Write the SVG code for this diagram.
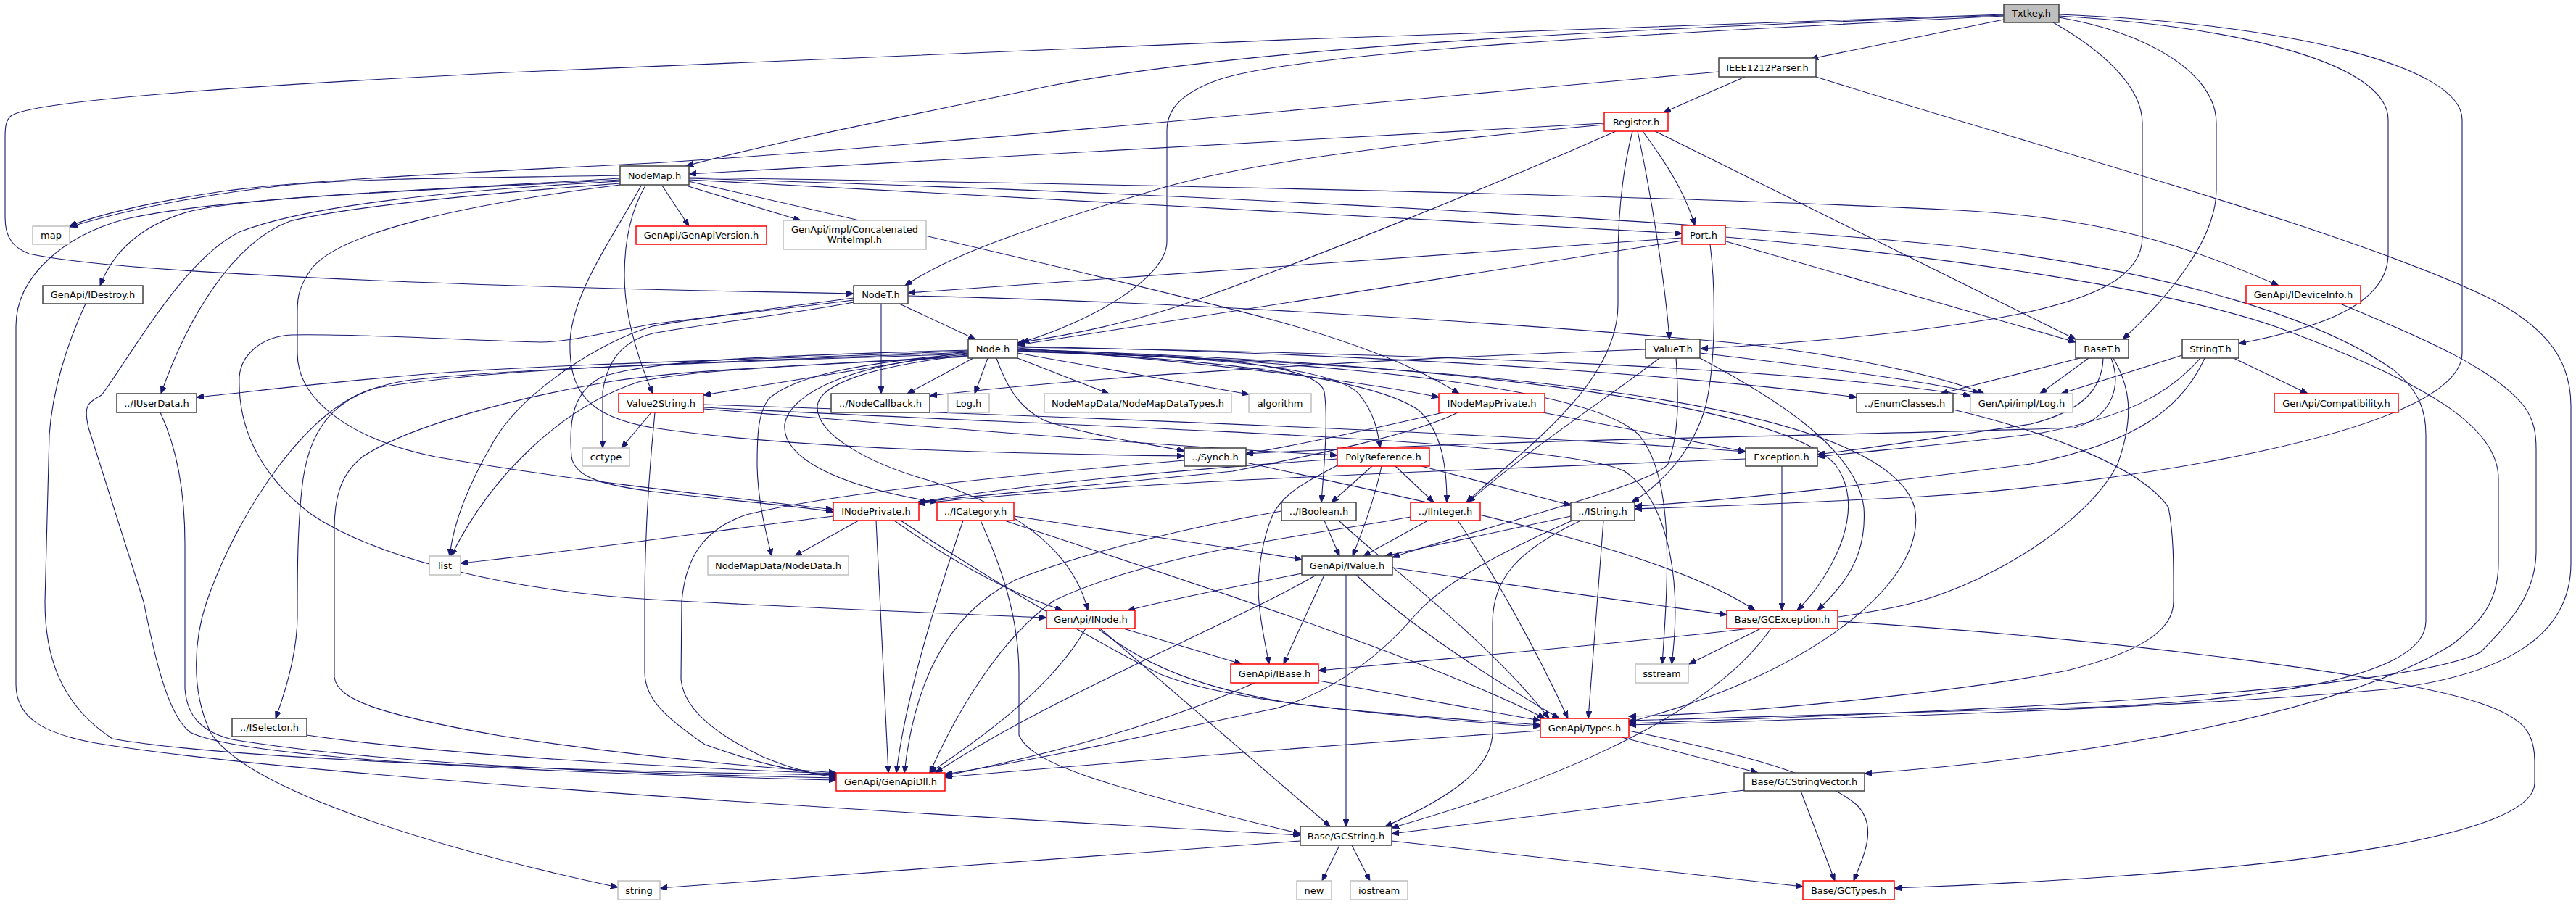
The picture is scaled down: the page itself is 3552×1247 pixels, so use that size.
<svg xmlns="http://www.w3.org/2000/svg" width="3552" height="1247" viewBox="0 0 3552 1247">
<defs>
<style>
.n rect{fill:#fff;stroke:#404040;stroke-width:1.5}
.n.r rect{stroke:#ff0000}
.n.g rect{stroke:#bfbfbf}
.n.root rect{fill:#bfbfbf}
.n text{font-family:"DejaVu Sans","Liberation Sans",sans-serif;font-size:13px;text-anchor:middle;fill:#000}
#edges path{fill:none;stroke:#191970;stroke-width:1.1;marker-end:url(#a)}
</style>
<marker id="a" markerWidth="11" markerHeight="8" refX="10" refY="4" orient="auto" markerUnits="userSpaceOnUse"><path d="M0,0 L10,4 L0,8 z" fill="#191970" stroke="#191970" stroke-width="1"/></marker>
</defs>
<rect width="3552" height="1247" fill="#fff"/>
<g id="edges">
<path d="M2763,20 C2200,38 1200,75 700,100 C300,120 40,140 15,160 C8,166 7,175 7,190 L7,300 C7,330 20,342 40,350 C150,375 600,395 1177,405"/>
<path d="M2763,21 C2300,38 1750,60 1450,118 C1250,160 1050,200 946,229"/>
<path d="M2763,22 C2300,45 1800,70 1680,110 C1630,128 1609,150 1609,180 L1609,333 C1609,385 1500,445 1409,472"/>
<path d="M2763,27 L2497,81"/>
<path d="M2831,31 C2900,70 2954,120 2954,170 L2954,327 C2954,385 2880,412 2790,432 C2640,462 2450,475 2345,481"/>
<path d="M2839,24 C2960,45 3056,100 3056,170 L3056,262 C3056,330 2990,410 2927,468"/>
<path d="M2839,22 C3100,38 3293,90 3293,165 L3293,350 C3293,420 3200,452 3087,474"/>
<path d="M2839,20 C3150,32 3395,90 3395,165 L3395,487 C3395,600 2900,670 2650,685 C2500,693 2350,699 2254,702"/>
<path d="M2406,106 L2294,155"/>
<path d="M2370,99 C1900,140 1300,200 900,225 C600,240 400,250 300,265 C200,280 130,298 96,312"/>
<path d="M2504,106 C2800,200 3250,320 3440,415 C3515,455 3545,500 3545,560 L3545,777 C3545,880 3450,930 3300,950 C3000,978 2500,992 2246,1000"/>
<path d="M2212,170 L950,240"/>
<path d="M2212,172 C1900,200 1700,230 1600,260 C1450,305 1320,345 1248,394"/>
<path d="M2228,181 C2050,260 1800,360 1660,410 C1580,440 1490,460 1403,473"/>
<path d="M2265,181 C2290,215 2322,260 2337,311"/>
<path d="M2258,181 C2275,260 2295,380 2302,468"/>
<path d="M2251,181 C2236,240 2231,300 2231,360 L2231,420 C2231,530 2100,620 2022,693"/>
<path d="M2282,181 L2862,468"/>
<path d="M2320,328 L1252,404"/>
<path d="M2320,332 L1403,476"/>
<path d="M2358,337 C2366,400 2366,500 2352,560 C2335,620 2295,665 2250,693"/>
<path d="M2380,333 L2862,472"/>
<path d="M2380,327 C2700,355 3000,400 3150,455 C3350,530 3445,590 3445,660 L3445,777 C3445,830 3420,860 3380,890 C3200,1000 2800,1050 2571,1067"/>
<path d="M855,242 C700,245 500,245 400,255 C280,268 170,290 97,313"/>
<path d="M855,246 C600,262 350,270 260,292 C190,312 155,350 138,394"/>
<path d="M855,248 C600,262 300,272 170,303 C90,325 22,380 22,450 L22,944 C22,990 60,1012 132,1025 C400,1070 1200,1120 1793,1152"/>
<path d="M855,250 C600,264 420,285 330,320 C250,360 175,500 140,545 C120,556 115,560 122,590 L198,830 C212,900 230,985 262,1010 C320,1040 600,1062 1153,1076"/>
<path d="M855,253 C600,272 460,290 400,305 C320,335 258,440 222,543"/>
<path d="M855,255 C640,282 470,320 430,370 C412,395 410,410 410,430 L410,487 C410,560 500,610 600,630 C800,665 1000,685 1149,703"/>
<path d="M890,256 C870,290 861,330 861,380 C861,440 882,500 900,543"/>
<path d="M884,256 C850,320 790,400 786,470 C784,540 810,575 900,590 C1100,620 1400,626 1633,629"/>
<path d="M913,256 L950,312"/>
<path d="M949,257 L1104,304"/>
<path d="M950,248 L2319,322"/>
<path d="M950,245 C1600,255 2300,270 2700,290 C2900,300 3020,340 3142,394"/>
<path d="M950,246 C1700,268 2400,310 2700,340 C3000,375 3200,440 3300,510 C3338,540 3345,570 3345,600 L3345,857 C3345,920 3200,960 2900,975 C2600,985 2400,990 2246,994"/>
<path d="M949,250 C1300,330 1600,400 1750,440 C1880,475 1960,510 2012,543"/>
<path d="M118,419 C92,475 72,540 68,600 L62,830 C62,900 80,970 155,1019 C300,1045 700,1062 1153,1069"/>
<path d="M221,569 C245,620 255,680 255,750 L255,950 C258,990 280,1010 320,1020 C500,1050 800,1066 1153,1073"/>
<path d="M423,1014 C600,1040 900,1058 1153,1067"/>
<path d="M1342,494 L1251,543"/>
<path d="M1362,494 L1344,543"/>
<path d="M1403,494 L1529,543"/>
<path d="M1403,487 L1722,544"/>
<path d="M1374,494 C1390,540 1410,565 1440,580 C1500,600 1570,610 1633,622"/>
<path d="M1335,485 L970,545"/>
<path d="M1335,487 C1200,500 1100,515 1060,550 C1045,570 1044,600 1044,643 C1045,690 1055,730 1064,767"/>
<path d="M1335,489 C1180,500 1090,540 1082,585 C1078,630 1150,670 1292,693"/>
<path d="M1335,490 C1200,505 1130,530 1127,560 C1125,600 1200,640 1282,663 C1400,700 1480,760 1500,842"/>
<path d="M1335,484 C1100,495 800,500 600,515 C450,527 350,540 271,548"/>
<path d="M1335,492 C1100,505 950,510 880,527 C780,560 680,650 622,767"/>
<path d="M1335,486 C1000,500 700,505 520,535 C430,555 330,700 285,830 C268,880 262,950 290,1010 C340,1090 600,1170 852,1224"/>
<path d="M1335,488 C1000,500 700,508 560,525 C470,540 430,580 418,660 C410,720 410,790 410,850 C410,900 395,950 380,991"/>
<path d="M1335,491 C1100,505 950,510 850,525 C700,550 560,590 500,630 C468,655 461,690 461,730 L461,934 C465,965 520,985 690,1015 C850,1040 1000,1055 1153,1066"/>
<path d="M1335,483 C1100,490 900,495 830,520 C790,540 784,580 788,630 C792,655 820,668 900,678 C1000,690 1100,698 1149,706"/>
<path d="M1403,480 C1600,495 1850,520 1984,548"/>
<path d="M1403,483 C1600,490 1840,500 1875,545 C1895,570 1900,595 1903,618"/>
<path d="M1403,482 C1650,490 1815,500 1826,540 C1832,580 1825,650 1822,693"/>
<path d="M1403,484 C1700,495 1895,525 1955,565 C1990,595 1995,650 1995,693"/>
<path d="M1403,478 C1900,488 2300,515 2560,548"/>
<path d="M1403,479 C2000,488 2500,510 2717,546"/>
<path d="M1403,482 C2000,500 2450,555 2530,640 C2575,700 2530,790 2478,842"/>
<path d="M1403,485 C2100,505 2600,560 2640,700 C2660,800 2500,930 2246,996"/>
<path d="M1403,484 C1900,500 2200,540 2260,600 C2310,660 2300,800 2292,916"/>
<path d="M1240,419 L1345,468"/>
<path d="M1215,419 L1215,543"/>
<path d="M1252,408 C1700,418 2200,455 2391,473 C2550,490 2680,520 2736,543"/>
<path d="M1177,411 C1050,428 950,440 900,450 C830,470 720,540 680,610 C645,670 625,720 620,767"/>
<path d="M1177,414 C1050,430 950,440 900,447 C830,460 780,472 746,472 C650,470 500,460 402,462 C360,464 332,490 330,520 C328,580 350,650 430,710 C520,770 700,815 900,827 C1100,838 1300,846 1443,852"/>
<path d="M1177,417 C1100,432 950,450 900,460 C860,470 838,495 831,540 L831,618"/>
<path d="M898,569 L857,618"/>
<path d="M903,569 C895,650 889,750 889,830 L889,927 C889,960 910,985 972,1027 C1050,1055 1100,1065 1153,1070"/>
<path d="M970,558 C1500,575 2100,600 2407,623"/>
<path d="M970,562 C1500,590 2150,605 2240,650 C2300,690 2320,800 2305,916"/>
<path d="M970,564 C1300,590 1600,615 1844,628"/>
<path d="M1633,635 C1400,655 1150,680 1029,710 C970,730 945,770 940,830 L939,937 C942,975 980,1010 1052,1044 C1090,1060 1120,1068 1153,1072"/>
<path d="M1718,638 C2000,700 2300,760 2420,842"/>
<path d="M1990,569 C1900,590 1800,612 1718,626"/>
<path d="M2010,569 C1950,600 1800,630 1700,650 C1500,670 1350,683 1265,693"/>
<path d="M2127,569 L2407,623"/>
<path d="M1892,643 L1836,693"/>
<path d="M1905,643 C1895,690 1880,730 1865,767"/>
<path d="M1924,643 L1977,693"/>
<path d="M1960,643 L2166,697"/>
<path d="M1844,633 C1600,650 1400,670 1265,693"/>
<path d="M1846,641 C1800,665 1770,680 1755,710 C1738,750 1733,800 1736,830 C1738,860 1745,890 1750,916"/>
<path d="M2269,482 C1900,495 1500,520 1282,546"/>
<path d="M2288,494 C2230,540 2120,610 2024,693"/>
<path d="M2311,494 C2315,550 2315,600 2300,640 C2280,670 2000,740 1920,769"/>
<path d="M2344,487 C2500,505 2650,525 2730,543"/>
<path d="M2344,494 C2450,550 2560,620 2570,700 C2575,770 2540,810 2506,842"/>
<path d="M2868,494 L2676,543"/>
<path d="M2880,494 L2813,543"/>
<path d="M2900,494 C2899,530 2880,565 2800,585 C2700,600 2600,615 2506,627"/>
<path d="M2911,494 C2925,530 2915,575 2860,590 C2600,600 2100,605 1718,626"/>
<path d="M2914,494 C2935,530 2945,570 2920,640 C2880,720 2750,800 2644,830 C2540,860 2200,890 1818,925"/>
<path d="M3009,490 L2842,543"/>
<path d="M3080,494 L3182,543"/>
<path d="M3034,494 C2990,545 2930,575 2816,597 C2700,612 2600,620 2506,630"/>
<path d="M3040,494 C3010,560 2950,610 2800,640 C2600,665 2400,690 2254,698"/>
<path d="M2693,565 C2800,590 2950,640 2990,700 C2998,740 2997,790 2997,830 C2997,870 2950,900 2850,925 C2700,955 2400,985 2246,988"/>
<path d="M2457,643 L2457,842"/>
<path d="M2407,633 C2100,645 1700,660 1500,675 C1400,683 1320,688 1265,695"/>
<path d="M1826,718 L1847,767"/>
<path d="M1846,718 C1900,770 2050,880 2136,991"/>
<path d="M1767,705 C1650,725 1500,760 1400,800 C1300,850 1260,950 1247,1066"/>
<path d="M1969,718 L1880,767"/>
<path d="M2010,718 C2060,790 2120,900 2162,991"/>
<path d="M1945,713 C1800,740 1600,760 1454,828 C1380,880 1320,980 1282,1066"/>
<path d="M2166,712 L1910,767"/>
<path d="M2211,718 L2190,991"/>
<path d="M2180,718 C2090,760 2058,800 2058,860 L2058,1010 C2058,1060 2000,1100 1910,1140"/>
<path d="M2168,718 C2050,770 1985,810 1950,850 C1890,920 1820,960 1760,977 C1600,1010 1450,1045 1303,1068"/>
<path d="M1800,790 C1700,810 1620,825 1555,842"/>
<path d="M1826,793 C1810,830 1790,870 1770,916"/>
<path d="M1815,793 C1700,860 1450,960 1290,1066"/>
<path d="M1856,793 L1856,1140"/>
<path d="M1870,793 C1950,870 2080,950 2150,991"/>
<path d="M1920,783 C2100,810 2250,830 2381,848"/>
<path d="M1398,712 C1550,735 1700,755 1795,772"/>
<path d="M1385,718 C1600,790 1950,900 2130,991"/>
<path d="M1352,718 C1380,780 1405,850 1405,930 L1405,1014 C1420,1050 1500,1080 1793,1150"/>
<path d="M1328,718 C1300,800 1250,950 1236,1066"/>
<path d="M1184,718 L1096,767"/>
<path d="M1149,712 C1000,730 800,760 635,777"/>
<path d="M1208,718 L1225,1066"/>
<path d="M1233,718 C1320,780 1400,820 1465,842"/>
<path d="M1242,718 C1350,790 1500,880 1600,930 C1700,970 1900,985 2124,1000"/>
<path d="M1549,867 L1712,916"/>
<path d="M1497,867 C1450,950 1350,1020 1282,1066"/>
<path d="M1517,867 L1834,1140"/>
<path d="M1514,867 C1580,920 1660,950 1780,970 C1900,985 2000,995 2124,1002"/>
<path d="M1730,942 C1600,1000 1450,1040 1303,1070"/>
<path d="M1818,939 L2124,994"/>
<path d="M2428,867 L2329,916"/>
<path d="M2442,867 C2350,1000 2100,1090 1919,1142"/>
<path d="M2534,857 C2900,880 3300,930 3420,970 C3480,990 3495,1010 3495,1050 L3495,1080 C3495,1150 3200,1190 2900,1210 C2800,1217 2700,1222 2612,1225"/>
<path d="M2124,1008 C1800,1030 1500,1055 1303,1072"/>
<path d="M2236,1017 L2424,1066"/>
<path d="M2246,1008 C2350,1030 2500,1060 2560,1110 C2590,1140 2570,1180 2556,1215"/>
<path d="M2405,1090 L1919,1150"/>
<path d="M2483,1091 L2530,1215"/>
<path d="M1847,1166 L1823,1215"/>
<path d="M1864,1166 L1889,1215"/>
<path d="M1793,1160 L910,1225"/>
<path d="M1919,1160 L2486,1223"/>
<path d="M3227,419 C3350,470 3440,510 3480,560 C3495,580 3497,600 3497,620 L3497,760 C3497,820 3460,860 3420,900 C3300,960 2600,985 2246,998"/>
</g>
<g id="n_txtkey" class="n root"><rect x="2763" y="6" width="76" height="25"/><text x="2801" y="23">Txtkey.h</text></g>
<g id="n_ieee" class="n"><rect x="2370" y="80" width="134" height="26"/><text x="2437" y="97.5">IEEE1212Parser.h</text></g>
<g id="n_register" class="n r"><rect x="2212" y="155" width="88" height="26"/><text x="2256" y="172.5">Register.h</text></g>
<g id="n_nodemap" class="n"><rect x="855" y="229" width="95" height="26"/><text x="902.5" y="246.5">NodeMap.h</text></g>
<g id="n_map" class="n g"><rect x="45" y="312" width="51" height="25"/><text x="70.5" y="329">map</text></g>
<g id="n_genapiversion" class="n r"><rect x="877" y="312" width="180" height="25"/><text x="967" y="329">GenApi/GenApiVersion.h</text></g>
<g id="n_concat" class="n g"><rect x="1080" y="304" width="197" height="40"/><text x="1178.5" y="321">GenApi/impl/Concatenated</text><text x="1178.5" y="335">WriteImpl.h</text></g>
<g id="n_port" class="n r"><rect x="2319" y="311" width="60" height="26"/><text x="2349" y="328.5">Port.h</text></g>
<g id="n_idestroy" class="n"><rect x="59" y="394" width="138" height="25"/><text x="128" y="411">GenApi/IDestroy.h</text></g>
<g id="n_nodet" class="n"><rect x="1177" y="394" width="75" height="25"/><text x="1214.5" y="411">NodeT.h</text></g>
<g id="n_idevinfo" class="n r"><rect x="3097" y="394" width="158" height="25"/><text x="3176" y="411">GenApi/IDeviceInfo.h</text></g>
<g id="n_node" class="n"><rect x="1335" y="468" width="68" height="26"/><text x="1369" y="485.5">Node.h</text></g>
<g id="n_valuet" class="n"><rect x="2269" y="468" width="75" height="26"/><text x="2306.5" y="485.5">ValueT.h</text></g>
<g id="n_baset" class="n"><rect x="2862" y="468" width="73" height="26"/><text x="2898.5" y="485.5">BaseT.h</text></g>
<g id="n_stringt" class="n"><rect x="3009" y="468" width="78" height="26"/><text x="3048" y="485.5">StringT.h</text></g>
<g id="n_iuserdata" class="n"><rect x="161" y="543" width="110" height="26"/><text x="216" y="560.5">../IUserData.h</text></g>
<g id="n_value2string" class="n r"><rect x="853" y="543" width="117" height="26"/><text x="911.5" y="560.5">Value2String.h</text></g>
<g id="n_nodecallback" class="n"><rect x="1146" y="543" width="136" height="26"/><text x="1214" y="560.5">../NodeCallback.h</text></g>
<g id="n_log" class="n g"><rect x="1307" y="543" width="57" height="26"/><text x="1335.5" y="560.5">Log.h</text></g>
<g id="n_nmdtypes" class="n g"><rect x="1440" y="543" width="258" height="26"/><text x="1569" y="560.5">NodeMapData/NodeMapDataTypes.h</text></g>
<g id="n_algorithm" class="n g"><rect x="1722" y="543" width="86" height="26"/><text x="1765" y="560.5">algorithm</text></g>
<g id="n_inodemapprivate" class="n r"><rect x="1984" y="543" width="146" height="26"/><text x="2057" y="560.5">INodeMapPrivate.h</text></g>
<g id="n_enumclasses" class="n"><rect x="2560" y="543" width="133" height="26"/><text x="2626.5" y="560.5">../EnumClasses.h</text></g>
<g id="n_impllog" class="n g"><rect x="2717" y="543" width="141" height="26"/><text x="2787.5" y="560.5">GenApi/impl/Log.h</text></g>
<g id="n_compat" class="n r"><rect x="3136" y="543" width="171" height="26"/><text x="3221.5" y="560.5">GenApi/Compatibility.h</text></g>
<g id="n_cctype" class="n g"><rect x="803" y="618" width="65" height="25"/><text x="835.5" y="635">cctype</text></g>
<g id="n_synch" class="n"><rect x="1633" y="618" width="85" height="25"/><text x="1675.5" y="635">../Synch.h</text></g>
<g id="n_polyref" class="n r"><rect x="1844" y="618" width="127" height="25"/><text x="1907.5" y="635">PolyReference.h</text></g>
<g id="n_exception" class="n"><rect x="2407" y="618" width="99" height="25"/><text x="2456.5" y="635">Exception.h</text></g>
<g id="n_inodeprivate" class="n r"><rect x="1149" y="693" width="118" height="25"/><text x="1208" y="710">INodePrivate.h</text></g>
<g id="n_icategory" class="n r"><rect x="1292" y="693" width="106" height="25"/><text x="1345" y="710">../ICategory.h</text></g>
<g id="n_iboolean" class="n"><rect x="1767" y="693" width="103" height="25"/><text x="1818.5" y="710">../IBoolean.h</text></g>
<g id="n_iinteger" class="n r"><rect x="1945" y="693" width="96" height="25"/><text x="1993" y="710">../IInteger.h</text></g>
<g id="n_istring" class="n"><rect x="2166" y="693" width="88" height="25"/><text x="2210" y="710">../IString.h</text></g>
<g id="n_list" class="n g"><rect x="592" y="767" width="43" height="26"/><text x="613.5" y="784.5">list</text></g>
<g id="n_nodedata" class="n g"><rect x="976" y="767" width="194" height="26"/><text x="1073" y="784.5">NodeMapData/NodeData.h</text></g>
<g id="n_ivalue" class="n"><rect x="1795" y="767" width="125" height="26"/><text x="1857.5" y="784.5">GenApi/IValue.h</text></g>
<g id="n_inode" class="n r"><rect x="1443" y="842" width="122" height="25"/><text x="1504" y="859">GenApi/INode.h</text></g>
<g id="n_gcexception" class="n r"><rect x="2381" y="842" width="153" height="25"/><text x="2457.5" y="859">Base/GCException.h</text></g>
<g id="n_ibase" class="n r"><rect x="1697" y="916" width="121" height="26"/><text x="1757.5" y="933.5">GenApi/IBase.h</text></g>
<g id="n_sstream" class="n g"><rect x="2255" y="916" width="73" height="26"/><text x="2291.5" y="933.5">sstream</text></g>
<g id="n_iselector" class="n"><rect x="320" y="991" width="103" height="25"/><text x="371.5" y="1008">../ISelector.h</text></g>
<g id="n_types" class="n r"><rect x="2124" y="991" width="122" height="26"/><text x="2185" y="1008.5">GenApi/Types.h</text></g>
<g id="n_genapidll" class="n r"><rect x="1153" y="1066" width="150" height="25"/><text x="1228" y="1083">GenApi/GenApiDll.h</text></g>
<g id="n_gcstringvector" class="n"><rect x="2405" y="1066" width="166" height="25"/><text x="2488" y="1083">Base/GCStringVector.h</text></g>
<g id="n_gcstring" class="n"><rect x="1793" y="1140" width="126" height="26"/><text x="1856" y="1157.5">Base/GCString.h</text></g>
<g id="n_string" class="n g"><rect x="852" y="1215" width="58" height="26"/><text x="881" y="1232.5">string</text></g>
<g id="n_new" class="n g"><rect x="1788" y="1215" width="48" height="26"/><text x="1812" y="1232.5">new</text></g>
<g id="n_iostream" class="n g"><rect x="1862" y="1215" width="79" height="26"/><text x="1901.5" y="1232.5">iostream</text></g>
<g id="n_gctypes" class="n r"><rect x="2486" y="1215" width="126" height="26"/><text x="2549" y="1232.5">Base/GCTypes.h</text></g>
</svg>
